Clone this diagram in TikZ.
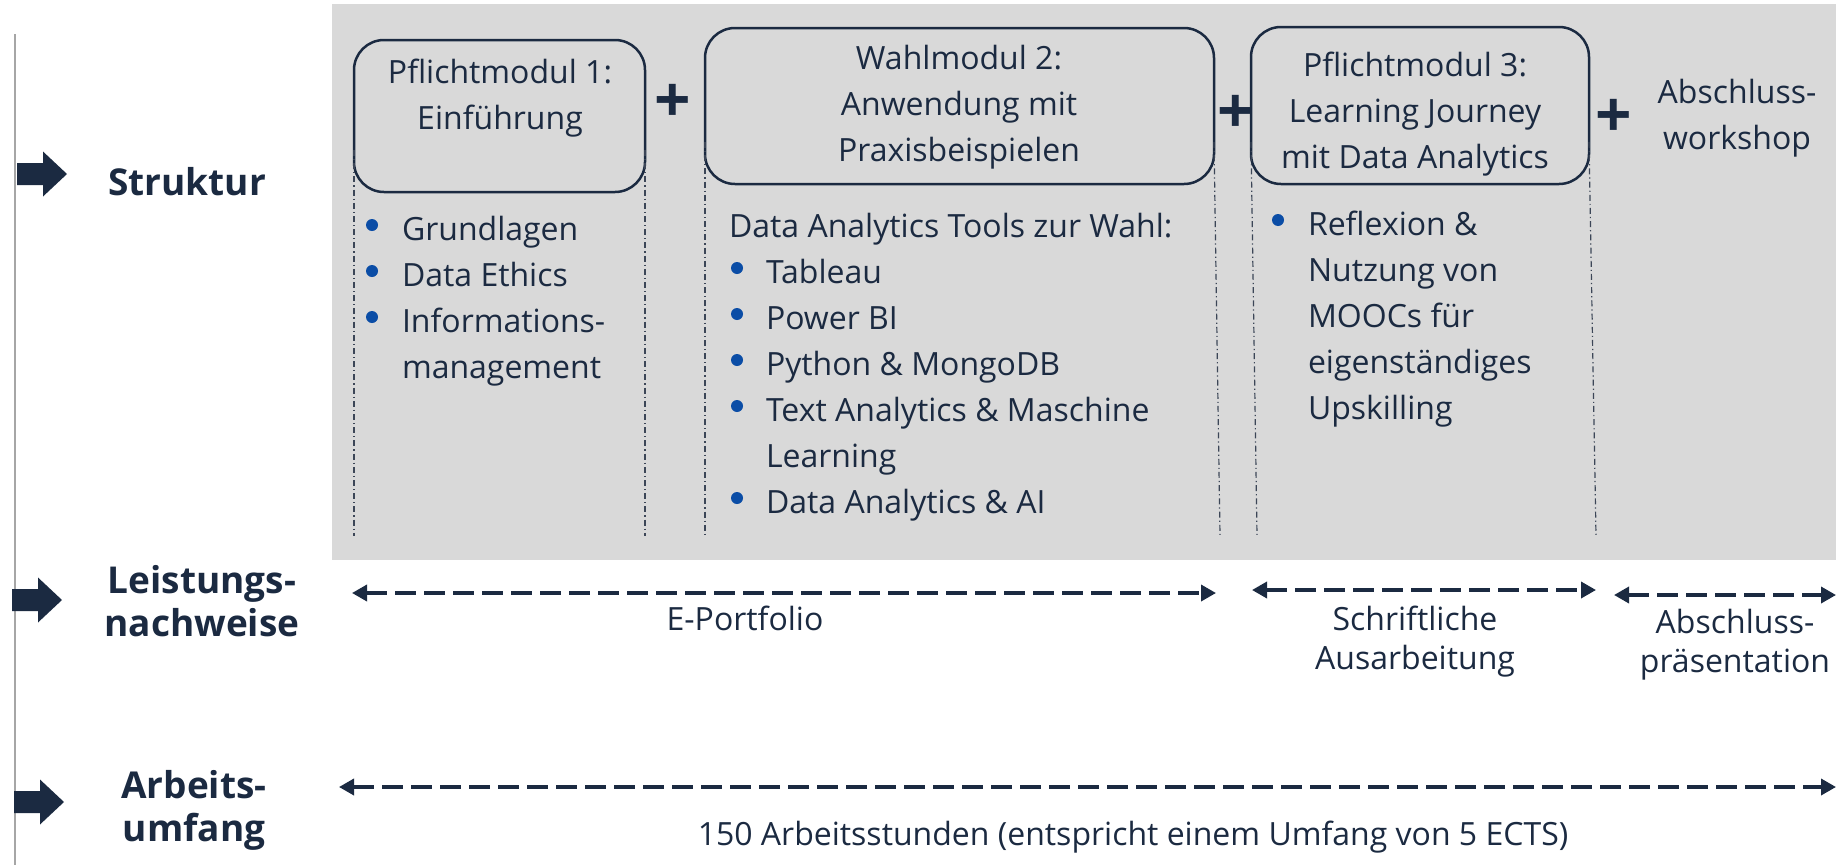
\documentclass[tikz,border=0pt]{standalone}
\usepackage{fontspec}
\setmainfont{Open Sans}
\usetikzlibrary{arrows.meta}
\definecolor{navy}{HTML}{1B2A41}
\definecolor{bulc}{HTML}{0B4DA6}
\definecolor{bggray}{HTML}{D9D9D9}
\definecolor{sidegray}{HTML}{A6A6A6}
\definecolor{ddgray}{HTML}{3C4657}
\newcommand\txt{\fontsize{32}{46}\selectfont}
\newcommand\txtb{\fontsize{32}{39}\selectfont}
\newcommand\boldtxt{\fontsize{37}{43}\selectfont\bfseries}
\newcommand\plusfont{\fontsize{64}{64}\selectfont\bfseries}
\newcommand\stack[2][l]{\begin{tabular}[t]{@{}#1@{}}#2\end{tabular}}
\begin{document}
\begin{tikzpicture}[x=1pt,y=-1pt,
  every node/.style={inner sep=0pt, outer sep=0pt, text=navy},
  modbox/.style={draw=navy, line width=2.5pt, rounded corners=30pt},
  body/.style={font=\txt, anchor=base west},
  bodyc/.style={font=\txt, anchor=base},
  lowlab/.style={font=\txtb, anchor=base},
  sidelab/.style={font=\boldtxt, anchor=base},
  plussign/.style={font=\plusfont},
  dd/.style={draw=ddgray, line width=1.2pt, dash pattern=on 6pt off 3pt on 1.2pt off 3pt},
  dimarrow/.style={draw=navy, line width=3.5pt, dash pattern=on 21pt off 8pt,
     {Triangle[length=15pt,width=16pt]}-{Triangle[length=15pt,width=16pt]}},
  blt/.style={fill=bulc},
  barrow/.pic={\fill[navy] (0,-11)--(26,-11)--(26,-22.5)--(50,0)--(26,22.5)--(26,11)--(0,11)--cycle;}
]
\useasboundingbox (0,0) rectangle (1836,865);
% background
\fill[bggray] (332,4) rectangle (1836,560);
\draw[sidegray, line width=2pt] (15,34) -- (15,865);

% side arrows and labels
\pic at (17,174) {barrow};
\pic at (12,600) {barrow};
\pic at (14,802) {barrow};
\node[sidelab] (lstruk) at (187,195) {Struktur};
\node[sidelab] (lleist) at (202,593) {\stack[c]{Leistungs-\\nachweise}};
\node[sidelab] (larb) at (194,798) {\stack[c]{Arbeits-\\umfang}};

% module boxes
\node[modbox, minimum width=291pt, minimum height=152pt] (m1) at (499.5,116) {};
\node[modbox, minimum width=509pt, minimum height=156pt] (m2) at (959.5,106) {};
\node[modbox, minimum width=338pt, minimum height=157pt] (m3) at (1420,105.5) {};
\node[bodyc] (m1t) at (500,83) {\stack[c]{Pflichtmodul 1:\\Einführung}};
\node[bodyc] (m2t) at (959,69) {\stack[c]{Wahlmodul 2:\\Anwendung mit\\Praxisbeispielen}};
\node[bodyc] (m3t) at (1415,76) {\stack[c]{Pflichtmodul 3:\\Learning Journey\\mit Data Analytics}};
\node[bodyc] (ws) at (1737,103) {\stack[c]{Abschluss-\\workshop}};

% plus signs
\node[plussign] (p1) at (673,103) {+};
\node[plussign] (p2) at (1236,114) {+};
\node[plussign] (p3) at (1614,118) {+};

% dash-dot column guides
\coordinate (gb) at (0,536);
\draw[dd] ([yshift=42pt]m1.south west) -- (m1.south west |- gb);
\draw[dd] ([yshift=42pt]m1.south east) -- (m1.south east |- gb);
\draw[dd] ([yshift=42pt]m2.south west) -- (m2.south west |- gb);
\draw[dd] ([yshift=42pt]m2.south east) -- ([xshift=6pt]m2.south east |- gb);
\draw[dd] ([yshift=42pt]m3.south west) -- ([xshift=6pt]m3.south west |- gb);
\draw[dd] ([yshift=42pt]m3.south east) -- ([xshift=7pt]m3.south east |- gb);

% lists
\node[body] (c1) at (402,240) {\stack{Grundlagen\\Data Ethics\\Informations-\\management}};
\foreach \y in {225,271,317} \fill[blt] (372,\y) circle (6pt);
\node[body] (c2h) at (729,237) {Data Analytics Tools zur Wahl:};
\node[body] (c2) at (766,283) {\stack{Tableau\\Power BI\\Python \& MongoDB\\Text Analytics \& Maschine\\Learning\\Data Analytics \& AI}};
\foreach \y in {268,314,360,406,498} \fill[blt] (737,\y) circle (6pt);
\node[body] (c3) at (1308,235) {\stack{Reflexion \&\\Nutzung von\\MOOCs für\\eigenständiges\\Upskilling}};
\fill[blt] (1278,220) circle (6pt);

% assessment arrows
\coordinate (a1l) at (352,593);
\coordinate (a1r) at (1216,593);
\coordinate (a2l) at (1252,590);
\coordinate (a2r) at (1596,590);
\coordinate (a3l) at (1614,595);
\coordinate (a3r) at (1836,595);
\coordinate (a4l) at (339,787);
\coordinate (a4r) at (1836,787);
\draw[dimarrow] (a1l) -- (a1r);
\draw[dimarrow] (a2l) -- (a2r);
\draw[dimarrow] (a3l) -- (a3r);
\draw[dimarrow] (a4l) -- (a4r);
\node[lowlab] (ep) at (745,630) {E-Portfolio};
\node[lowlab] (sa) at (1415,630) {\stack[c]{Schriftliche\\Ausarbeitung}};
\node[lowlab] (ap) at (1735,633) {\stack[c]{Abschluss-\\präsentation}};
\node[lowlab] (au) at (1133,845) {150 Arbeitsstunden (entspricht einem Umfang von 5 ECTS)};
\end{tikzpicture}
\end{document}
